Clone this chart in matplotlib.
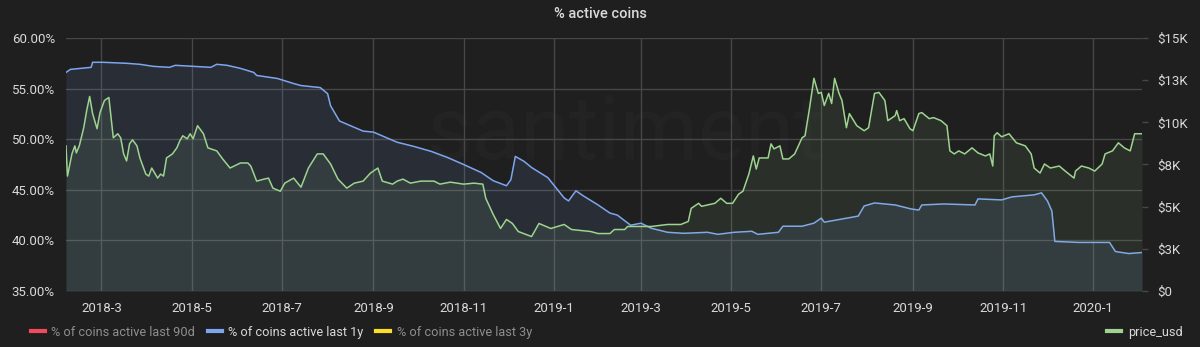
import numpy as np
import pandas as pd
import matplotlib
matplotlib.use('Agg')
import matplotlib.pyplot as plt
import matplotlib.dates as mdates
from matplotlib.lines import Line2D
from matplotlib.ticker import FuncFormatter

plt.rcParams['font.family'] = ['Roboto', 'DejaVu Sans']

# Datos (dias desde el inicio)
start = pd.Timestamp('2018-02-05')
end_day = 728

active_1y_days = [0, 3, 17, 18, 25, 41, 50, 59, 70, 74, 86, 98, 102, 109, 118, 127, 129,
                  143, 154, 159, 172, 177, 179, 185, 201, 208, 224, 235, 247, 258, 269,
                  281, 289, 298, 301, 304, 310, 315, 326, 337, 340, 345, 350, 360, 368,
                  373, 382, 389, 396, 407, 418, 434, 441, 452, 464, 468, 482, 485, 498,
                  506, 511, 513, 536, 540, 547, 561, 572, 577, 579, 594, 615, 617, 633,
                  640, 655, 660, 664, 667, 669, 685, 706, 710, 719, 728]
active_1y = [56.6, 56.9, 57.1, 57.6, 57.6, 57.5, 57.4, 57.2, 57.1, 57.3, 57.2, 57.1, 57.4,
             57.3, 57.0, 56.6, 56.3, 56.0, 55.5, 55.3, 55.1, 54.5, 53.3, 51.8, 50.8, 50.7,
             49.7, 49.3, 48.8, 48.2, 47.5, 46.7, 45.9, 45.4, 46.0, 48.3, 47.8, 47.2, 46.2,
             44.2, 43.9, 44.9, 44.4, 43.5, 42.7, 42.5, 41.5, 41.7, 41.2, 40.8, 40.7, 40.8,
             40.6, 40.8, 40.9, 40.6, 40.8, 41.4, 41.4, 41.7, 42.2, 41.8, 42.4, 43.4, 43.7,
             43.5, 43.1, 43.0, 43.5, 43.6, 43.5, 44.1, 44.0, 44.3, 44.5, 44.7, 43.9, 42.9,
             39.9, 39.8, 39.8, 38.9, 38.7, 38.8]

price_days = [0, 1, 4, 6, 7, 9, 12, 14, 16, 18, 21, 23, 26, 29, 32, 35, 37, 39, 41, 43,
              45, 48, 50, 54, 56, 58, 62, 64, 66, 68, 72, 75, 77, 79, 82, 84, 86, 89, 93,
              96, 102, 106, 111, 118, 123, 125, 129, 134, 137, 140, 145, 148, 154, 159,
              164, 170, 174, 179, 184, 190, 195, 201, 206, 211, 214, 221, 224, 228, 233,
              240, 249, 253, 260, 269, 276, 282, 284, 289, 294, 298, 302, 306, 315, 320,
              328, 337, 342, 355, 360, 368, 371, 378, 380, 396, 407, 416, 421, 423, 428,
              430, 439, 443, 447, 451, 455, 458, 462, 465, 467, 469, 475, 477, 479, 483,
              485, 489, 493, 498, 500, 503, 506, 509, 511, 513, 516, 518, 520, 523, 525,
              528, 530, 535, 540, 543, 547, 550, 554, 556, 561, 562, 564, 567, 571, 573,
              577, 579, 584, 587, 592, 596, 598, 601, 604, 608, 613, 617, 622, 625, 627,
              628, 630, 633, 638, 643, 649, 653, 655, 659, 662, 666, 672, 676, 682, 683,
              687, 692, 696, 701, 703, 708, 712, 716, 720, 723, 728]
price_usd = [8605, 6813, 8127, 8605, 8187, 8605, 9681, 10697, 11534, 10518, 9621, 10578,
             11295, 11474, 9084, 9323, 9084, 8127, 7709, 8725, 8964, 8605, 7888, 6932,
             6813, 7291, 6693, 6932, 6813, 7888, 8127, 8486, 8904, 9203, 9024, 9323, 9024,
             9801, 9323, 8486, 8307, 7829, 7291, 7590, 7590, 7410, 6514, 6633, 6693, 6096,
             5916, 6394, 6693, 6155, 7291, 8127, 8127, 7530, 6633, 6096, 6394, 6514, 6992,
             7291, 6514, 6335, 6514, 6633, 6394, 6514, 6514, 6335, 6454, 6335, 6394, 6335,
             5498, 4542, 3705, 4243, 4004, 3526, 3227, 4004, 3705, 3944, 3645, 3526, 3406,
             3406, 3645, 3645, 3825, 3825, 3944, 3944, 4123, 4900, 5199, 5020, 5199, 5498,
             5199, 5199, 5737, 5916, 6932, 8008, 7231, 7888, 7888, 8725, 8426, 8605, 7829,
             7829, 8127, 9084, 9203, 10817, 12609, 11713, 11773, 10996, 11713, 11115, 12609,
             11713, 11295, 9681, 10518, 9801, 9502, 9681, 11713, 11773, 11295, 10099, 10398,
             10697, 10099, 10219, 9621, 9502, 10518, 10578, 10219, 10279, 10099, 9801, 8307,
             8127, 8307, 8127, 8486, 8187, 8008, 8127, 7410, 9203, 9382, 9143, 9323, 8785,
             8605, 8127, 7291, 6992, 7530, 7291, 7410, 7111, 6693, 7111, 7410, 7291, 7111,
             7530, 8127, 8307, 8785, 8486, 8307, 9323, 9323]

pct_ticks = [35, 40, 45, 50, 55, 60]
price_ticks = [0, 2500, 5000, 7500, 10000, 12500, 15000]
price_tick_labels = ['$0', '$3K', '$5K', '$8K', '$10K', '$13K', '$15K']

legend_left = ['% of coins active last 90d', '% of coins active last 1y',
               '% of coins active last 3y']
legend_right = ['price_usd']

# Colores estilo Grafana oscuro
bg = '#1f1f20'
grid_c = '#474747'
text_c = '#d8d9da'
blue = '#7ea6ee'
green = '#9dd48f'
red = '#f2495c'
yellow = '#fade2a'

t_blue = start + pd.to_timedelta(active_1y_days, unit='D')
t_price = start + pd.to_timedelta(price_days, unit='D')

fig = plt.figure(figsize=(12, 3.47), dpi=100, facecolor=bg)
ax = fig.add_axes([0.055, 0.1614, 0.8967, 0.7291])
ax.set_facecolor(bg)
ax2 = ax.twinx()

ax.fill_between(t_blue, active_1y, 35, color=blue, alpha=0.11, linewidth=0)
ax.plot(t_blue, active_1y, color=blue, linewidth=1.1)
ax2.fill_between(t_price, price_usd, 0, color=green, alpha=0.09, linewidth=0)
ax2.plot(t_price, price_usd, color=green, linewidth=1.1)

ax.set_xlim(start, start + pd.Timedelta(days=end_day))
ax.set_ylim(35, 60)
ax2.set_ylim(0, 15000)

ax.set_yticks(pct_ticks)
ax.yaxis.set_major_formatter(FuncFormatter(lambda v, p: f'{v:.2f}%'))
ax2.set_yticks(price_ticks)
ax2.set_yticklabels(price_tick_labels)

ax.xaxis.set_major_locator(mdates.MonthLocator(bymonth=[1, 3, 5, 7, 9, 11]))
ax.xaxis.set_major_formatter(FuncFormatter(
    lambda v, p: f'{mdates.num2date(v).year}-{mdates.num2date(v).month}'))

ax.grid(True, color=grid_c, linewidth=1)
ax.set_axisbelow(True)
for a in (ax, ax2):
    for s in a.spines.values():
        s.set_visible(False)
ax.tick_params(axis='x', length=0, pad=8, colors=text_c, labelsize=9.5)
ax.tick_params(axis='y', length=0, pad=8, colors=text_c, labelsize=9.5)
ax2.tick_params(axis='y', length=4, width=1, pad=7, color=grid_c,
                labelcolor=text_c, labelsize=9.5)

# marca de agua
ax.text(0.52, 0.62, 'santiment', transform=ax.transAxes, ha='center', va='center',
        fontsize=64, color='#ffffff', alpha=0.018, zorder=0)

fig.text(0.5, 0.96, '% active coins', ha='center', va='center',
         color=text_c, fontsize=10.5, fontweight='medium')

handles = [Line2D([], [], color=c, linewidth=3) for c in (red, blue, yellow)]
leg = fig.legend(handles, legend_left, loc='center left', bbox_to_anchor=(0.016, 0.043),
                 ncol=3, frameon=False, fontsize=9.2, handlelength=1.1,
                 handletextpad=0.5, columnspacing=1.0)
for txt, c in zip(leg.get_texts(), ['#8e8e8e', text_c, '#8e8e8e']):
    txt.set_color(c)
leg2 = fig.legend([Line2D([], [], color=green, linewidth=3)], legend_right,
                  loc='center right', bbox_to_anchor=(0.995, 0.043), frameon=False,
                  fontsize=9.2, handlelength=1.1, handletextpad=0.5)
leg2.get_texts()[0].set_color(text_c)

fig.savefig('out.png', dpi=100, facecolor=bg)
